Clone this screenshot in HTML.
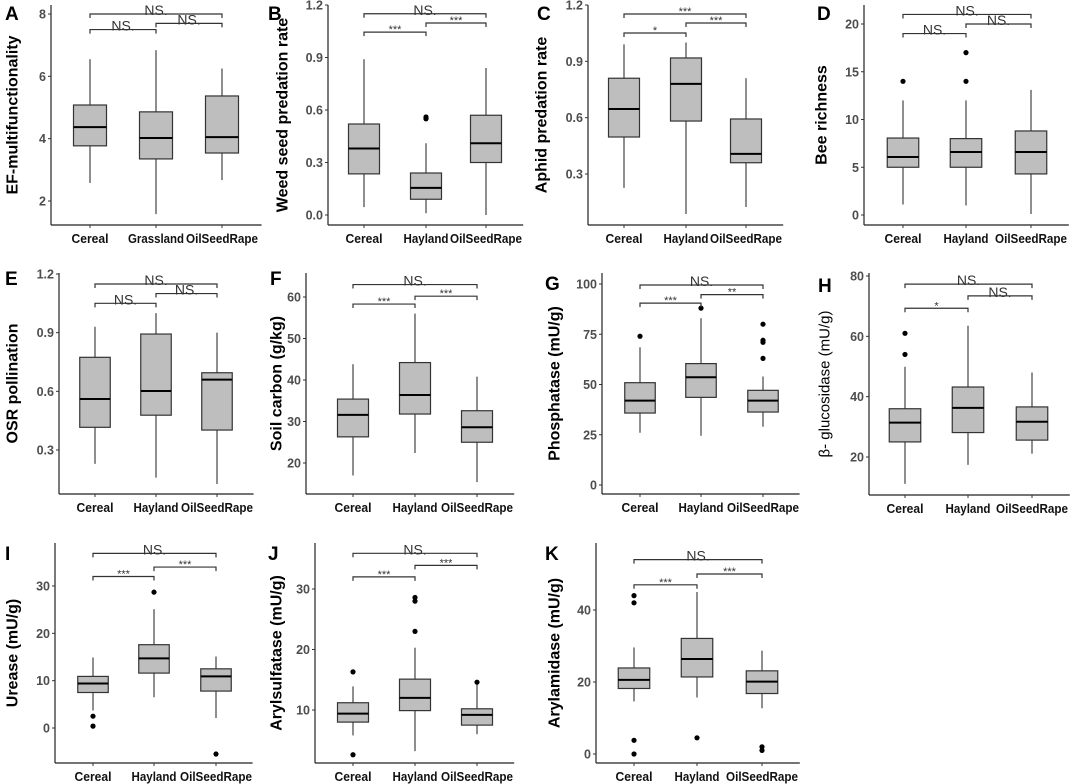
<!DOCTYPE html>
<html><head><meta charset="utf-8">
<style>
html,body{margin:0;padding:0;background:#fff;}
svg{display:block;font-family:"Liberation Sans",Arial,sans-serif;}
</style></head>
<body>
<svg id="fig" width="1074" height="784" viewBox="0 0 1074 784" xmlns="http://www.w3.org/2000/svg"></svg>
<script>
// ---- data (value arrays per panel: Cereal, second land use, OilSeedRape) ----
const A_lo=[2.58,1.58,2.67], A_q1=[3.77,3.35,3.54], A_med=[4.37,4.02,4.05], A_q3=[5.08,4.86,5.37], A_hi=[6.55,6.84,6.25], A_out=[[],[],[]];
const A_ticks=[2,4,6,8], A_tickLabels=["2","4","6","8"], A_brY=[7.5,7.7,8.0], A_brLab=["NS.","NS.","NS."];
const B_lo=[0.045,0.01,0.0], B_q1=[0.235,0.09,0.30], B_med=[0.38,0.155,0.41], B_q3=[0.52,0.24,0.57], B_hi=[0.89,0.41,0.84], B_out=[[],[0.55,0.56],[]];
const B_ticks=[0,0.3,0.6,0.9,1.2], B_tickLabels=["0.0","0.3","0.6","0.9","1.2"], B_brY=[1.045,1.097,1.15], B_brLab=["***","***","NS."];
const C_lo=[0.226,0.087,0.124], C_q1=[0.497,0.582,0.36], C_med=[0.646,0.78,0.407], C_q3=[0.81,0.918,0.593], C_hi=[0.99,1.0,0.81], C_out=[[],[],[]];
const C_ticks=[0.3,0.6,0.9,1.2], C_tickLabels=["0.3","0.6","0.9","1.2"], C_brY=[1.051,1.104,1.152], C_brLab=["*","***","***"];
const D_lo=[1.1,1,0.1], D_q1=[5,5,4.3], D_med=[6.07,6.6,6.6], D_q3=[8.06,8,8.8], D_hi=[12,12,13.1], D_out=[[14],[14,17],[]];
const D_ticks=[0,5,10,15,20], D_tickLabels=["0","5","10","15","20"], D_brY=[19,20,21], D_brLab=["NS.","NS.","NS."];
const E_lo=[0.229,0.159,0.126], E_q1=[0.416,0.478,0.402], E_med=[0.561,0.602,0.66], E_q3=[0.774,0.893,0.695], E_hi=[0.93,1.0,0.90], E_out=[[],[],[]];
const E_ticks=[0.3,0.6,0.9,1.2], E_tickLabels=["0.3","0.6","0.9","1.2"], E_brY=[1.05,1.1,1.149], E_brLab=["NS.","NS.","NS."];
const F_lo=[17.0,22.4,15.4], F_q1=[26.3,31.8,25.0], F_med=[31.6,36.4,28.6], F_q3=[35.4,44.2,32.6], F_hi=[43.8,56,40.8], F_out=[[],[],[]];
const F_ticks=[20,30,40,50,60], F_tickLabels=["20","30","40","50","60"], F_brY=[58.3,60.2,63], F_brLab=["***","***","NS."];
const G_lo=[26,24.5,29], G_q1=[35.8,43.6,36.3], G_med=[42,53.6,42], G_q3=[50.9,60.4,47.1], G_hi=[68.5,83,54], G_out=[[74],[88],[80,72,71,63]];
const G_ticks=[0,25,50,75,100], G_tickLabels=["0","25","50","75","100"], G_brY=[90.5,94.7,99.5], G_brLab=["***","**","NS."];
const H_lo=[11.1,17.4,21.1], H_q1=[25,28.1,25.6], H_med=[31.4,36.3,31.7], H_q3=[36,43.2,36.6], H_hi=[49.9,63.5,48], H_out=[[61,54],[],[]];
const H_ticks=[20,40,60,80], H_tickLabels=["20","40","60","80"], H_brY=[69.3,73.4,77.3], H_brLab=["*","NS.","NS."];
const I_lo=[3.7,6.5,2.1], I_q1=[7.5,11.6,7.8], I_med=[9.4,14.7,10.9], I_q3=[10.9,17.6,12.5], I_hi=[14.9,25.1,15.1], I_out=[[2.5,0.4],[28.7],[-5.5]];
const I_ticks=[0,10,20,30], I_tickLabels=["0","10","20","30"], I_brY=[32,34,36.9], I_brLab=["***","***","NS."];
const J_lo=[5.8,3.2,6.0], J_q1=[8.0,9.9,7.5], J_med=[9.4,12.0,9.2], J_q3=[11.2,15.1,10.2], J_hi=[13.9,20.3,14.2], J_out=[[16.3,2.6],[28.6,28.0,23.0],[14.6]];
const J_ticks=[10,20,30], J_tickLabels=["10","20","30"], J_brY=[32,33.9,35.9], J_brLab=["***","***","NS."];
const K_lo=[14.6,15.7,12.7], K_q1=[18.2,21.4,16.8], K_med=[20.6,26.4,20.1], K_q3=[23.9,32.1,23.1], K_hi=[29.6,45,28.7], K_out=[[44,42,3.8,0],[4.5],[2,1]];
const K_ticks=[0,20,40], K_tickLabels=["0","20","40"], K_brY=[47,50,54], K_brLab=["***","***","NS."];
const catsHay=["Cereal","Hayland","OilSeedRape"], catsGrass=["Cereal","Grassland","OilSeedRape"];

// ---- layout (pixels, not data) ----
const labelWidth={"Cereal":37,"Hayland":45,"Grassland":56,"OilSeedRape":72};
const panels=[
 {L:"A",title:"EF-multifunctionality",bold:true,ax:51,top:5,bot:225,cx:[90,156,222],s:[2,201,8,14],tx:13,lx:5,ly:20,cats:catsGrass,lo:A_lo,q1:A_q1,med:A_med,q3:A_q3,hi:A_hi,out:A_out,ticks:A_ticks,tl:A_tickLabels,brY:A_brY,brLab:A_brLab},
 {L:"B",title:"Weed seed predation rate",bold:true,ax:328,top:5,bot:225,cx:[364,426,486],s:[0,215,1.2,5],tx:283,lx:268,ly:20,cats:catsHay,lo:B_lo,q1:B_q1,med:B_med,q3:B_q3,hi:B_hi,out:B_out,ticks:B_ticks,tl:B_tickLabels,brY:B_brY,brLab:B_brLab},
 {L:"C",title:"Aphid predation rate",bold:true,ax:588,top:5,bot:225,cx:[624,686,746],s:[0.3,174,1.2,5],tx:542,lx:537,ly:20,cats:catsHay,lo:C_lo,q1:C_q1,med:C_med,q3:C_q3,hi:C_hi,out:C_out,ticks:C_ticks,tl:C_tickLabels,brY:C_brY,brLab:C_brLab},
 {L:"D",title:"Bee richness",bold:true,ax:864,top:5,bot:225,cx:[903,966,1031],s:[0,215,20,24],tx:822,lx:817,ly:20,cats:catsHay,lo:D_lo,q1:D_q1,med:D_med,q3:D_q3,hi:D_hi,out:D_out,ticks:D_ticks,tl:D_tickLabels,brY:D_brY,brLab:D_brLab},
 {L:"E",title:"OSR pollination",bold:true,ax:59,top:273,bot:494,cx:[95,156,217],s:[0.3,450,1.2,274],tx:13,lx:5,ly:285,cats:catsHay,lo:E_lo,q1:E_q1,med:E_med,q3:E_q3,hi:E_hi,out:E_out,ticks:E_ticks,tl:E_tickLabels,brY:E_brY,brLab:E_brLab},
 {L:"F",title:"Soil carbon (g/kg)",bold:true,ax:306,top:273,bot:494,cx:[353,415,477],s:[20,463,60,297],tx:277,lx:270,ly:285,cats:catsHay,lo:F_lo,q1:F_q1,med:F_med,q3:F_q3,hi:F_hi,out:F_out,ticks:F_ticks,tl:F_tickLabels,brY:F_brY,brLab:F_brLab},
 {L:"G",title:"Phosphatase (mU/g)",bold:true,ax:602,top:273,bot:494,cx:[640,701,763],s:[0,485,100,284],tx:555,lx:545,ly:290,cats:catsHay,lo:G_lo,q1:G_q1,med:G_med,q3:G_q3,hi:G_hi,out:G_out,ticks:G_ticks,tl:G_tickLabels,brY:G_brY,brLab:G_brLab},
 {L:"H",title:"β- glucosidase (mU/g)",bold:false,ax:869,top:273,bot:495,cx:[905,968,1032],s:[20,457,80,276],tx:825,lx:818,ly:292,cats:catsHay,lo:H_lo,q1:H_q1,med:H_med,q3:H_q3,hi:H_hi,out:H_out,ticks:H_ticks,tl:H_tickLabels,brY:H_brY,brLab:H_brLab},
 {L:"I",title:"Urease (mU/g)",bold:true,ax:55,top:543,bot:763,cx:[93,154,216],s:[0,728,30,586],tx:13,lx:5,ly:560,cats:catsHay,lo:I_lo,q1:I_q1,med:I_med,q3:I_q3,hi:I_hi,out:I_out,ticks:I_ticks,tl:I_tickLabels,brY:I_brY,brLab:I_brLab},
 {L:"J",title:"Arylsulfatase (mU/g)",bold:true,ax:315,top:543,bot:763,cx:[353,415,477],s:[10,710,30,589],tx:277,lx:268,ly:560,cats:catsHay,lo:J_lo,q1:J_q1,med:J_med,q3:J_q3,hi:J_hi,out:J_out,ticks:J_ticks,tl:J_tickLabels,brY:J_brY,brLab:J_brLab},
 {L:"K",title:"Arylamidase (mU/g)",bold:true,ax:596,top:543,bot:763,cx:[634,697,762],s:[0,754,40,610],tx:555,lx:545,ly:560,cats:catsHay,lo:K_lo,q1:K_q1,med:K_med,q3:K_q3,hi:K_hi,out:K_out,ticks:K_ticks,tl:K_tickLabels,brY:K_brY,brLab:K_brLab}
];

const NS="http://www.w3.org/2000/svg";
const svg=document.getElementById("fig");
function mk(tag,attrs,parent){const e=document.createElementNS(NS,tag);for(const k in attrs)e.setAttribute(k,attrs[k]);(parent||svg).appendChild(e);return e;}

panels.forEach(p=>{
  const g=mk("g",{});
  
  
  const [v1,y1,v2,y2]=p.s;
  const Y=v=>y1+(v-v1)*(y2-y1)/(v2-v1);
  const sp=p.cx[1]-p.cx[0];
  const right=p.cx[2]+sp*0.6;
  const bw=sp*0.5;
  const lt=mk("text",{x:p.lx,y:p.ly,"font-size":19,"font-weight":"bold",fill:"#000"},g);
  lt.textContent=p.L;
  
  
  const ya=mk("line",{x1:p.ax,y1:p.top,x2:p.ax,y2:p.bot,stroke:"#222","stroke-width":1.2},g);
  
  
  const xa=mk("line",{x1:p.ax,y1:p.bot,x2:right,y2:p.bot,stroke:"#222","stroke-width":1.2},g);
  
  
  p.ticks.forEach((t,i)=>{
    const ty=Y(t);
    const tk=mk("line",{x1:p.ax-3,y1:ty,x2:p.ax,y2:ty,stroke:"#333","stroke-width":1},g);
    
    
    const tl=mk("text",{x:p.ax-5,y:ty+4.5,"font-size":12.5,"font-weight":"bold",fill:"#4d4d4d","text-anchor":"end"},g);
    tl.textContent=p.tl[i];
    
    
  });
  const my=(p.top+p.bot)/2;
  const yt=mk("text",{x:p.tx,y:my,"font-size":p.bold?16:15,"font-weight":p.bold?"bold":"normal",fill:"#000","text-anchor":"middle",transform:`rotate(-90 ${p.tx} ${my})`,"dominant-baseline":"central"},g);
  yt.textContent=p.title;
  
  
  p.cx.forEach((x,i)=>{
    const tk=mk("line",{x1:x,y1:p.bot,x2:x,y2:p.bot+3,stroke:"#333"},g);
    
    
    const lw=labelWidth[p.cats[i]];
    const cl=mk("text",{x:x-lw/2,y:p.bot+18,"font-size":13,"font-weight":"bold",fill:"#111",textLength:lw,lengthAdjust:"spacingAndGlyphs"},g);
    cl.textContent=p.cats[i];
    
    
    const wh=mk("line",{x1:x,y1:Y(p.lo[i]),x2:x,y2:Y(p.hi[i]),stroke:"#444","stroke-width":1.2},g);
    
    
    const bx=mk("rect",{x:x-bw/2,y:Y(p.q3[i]),width:bw,height:Y(p.q1[i])-Y(p.q3[i]),fill:"#bebebe",stroke:"#333","stroke-width":1.2},g);
    
    
    const md=mk("line",{x1:x-bw/2,y1:Y(p.med[i]),x2:x+bw/2,y2:Y(p.med[i]),stroke:"#000","stroke-width":2},g);
    
    
    p.out[i].forEach(o=>{
      const c=mk("circle",{cx:x,cy:Y(o),r:2.6,fill:"#000"},g);
      
      
    });
  });
  const pairs=[[0,1],[1,2],[0,2]];
  pairs.forEach((pr,k)=>{
    const by=Y(p.brY[k]);
    const xa1=p.cx[pr[0]], xa2=p.cx[pr[1]];
    const br=mk("path",{d:`M${xa1},${by+4}V${by}H${xa2}V${by+4}`,fill:"none",stroke:"#333","stroke-width":1.2},g);
    
    
    const star=p.brLab[k]!=="NS.";
    const bl=mk("text",{x:(xa1+xa2)/2,y:by+1,"font-size":star?11:14,fill:"#333","text-anchor":"middle"},g);
    bl.textContent=p.brLab[k];
    
    
  });
});
</script>
</body></html>
